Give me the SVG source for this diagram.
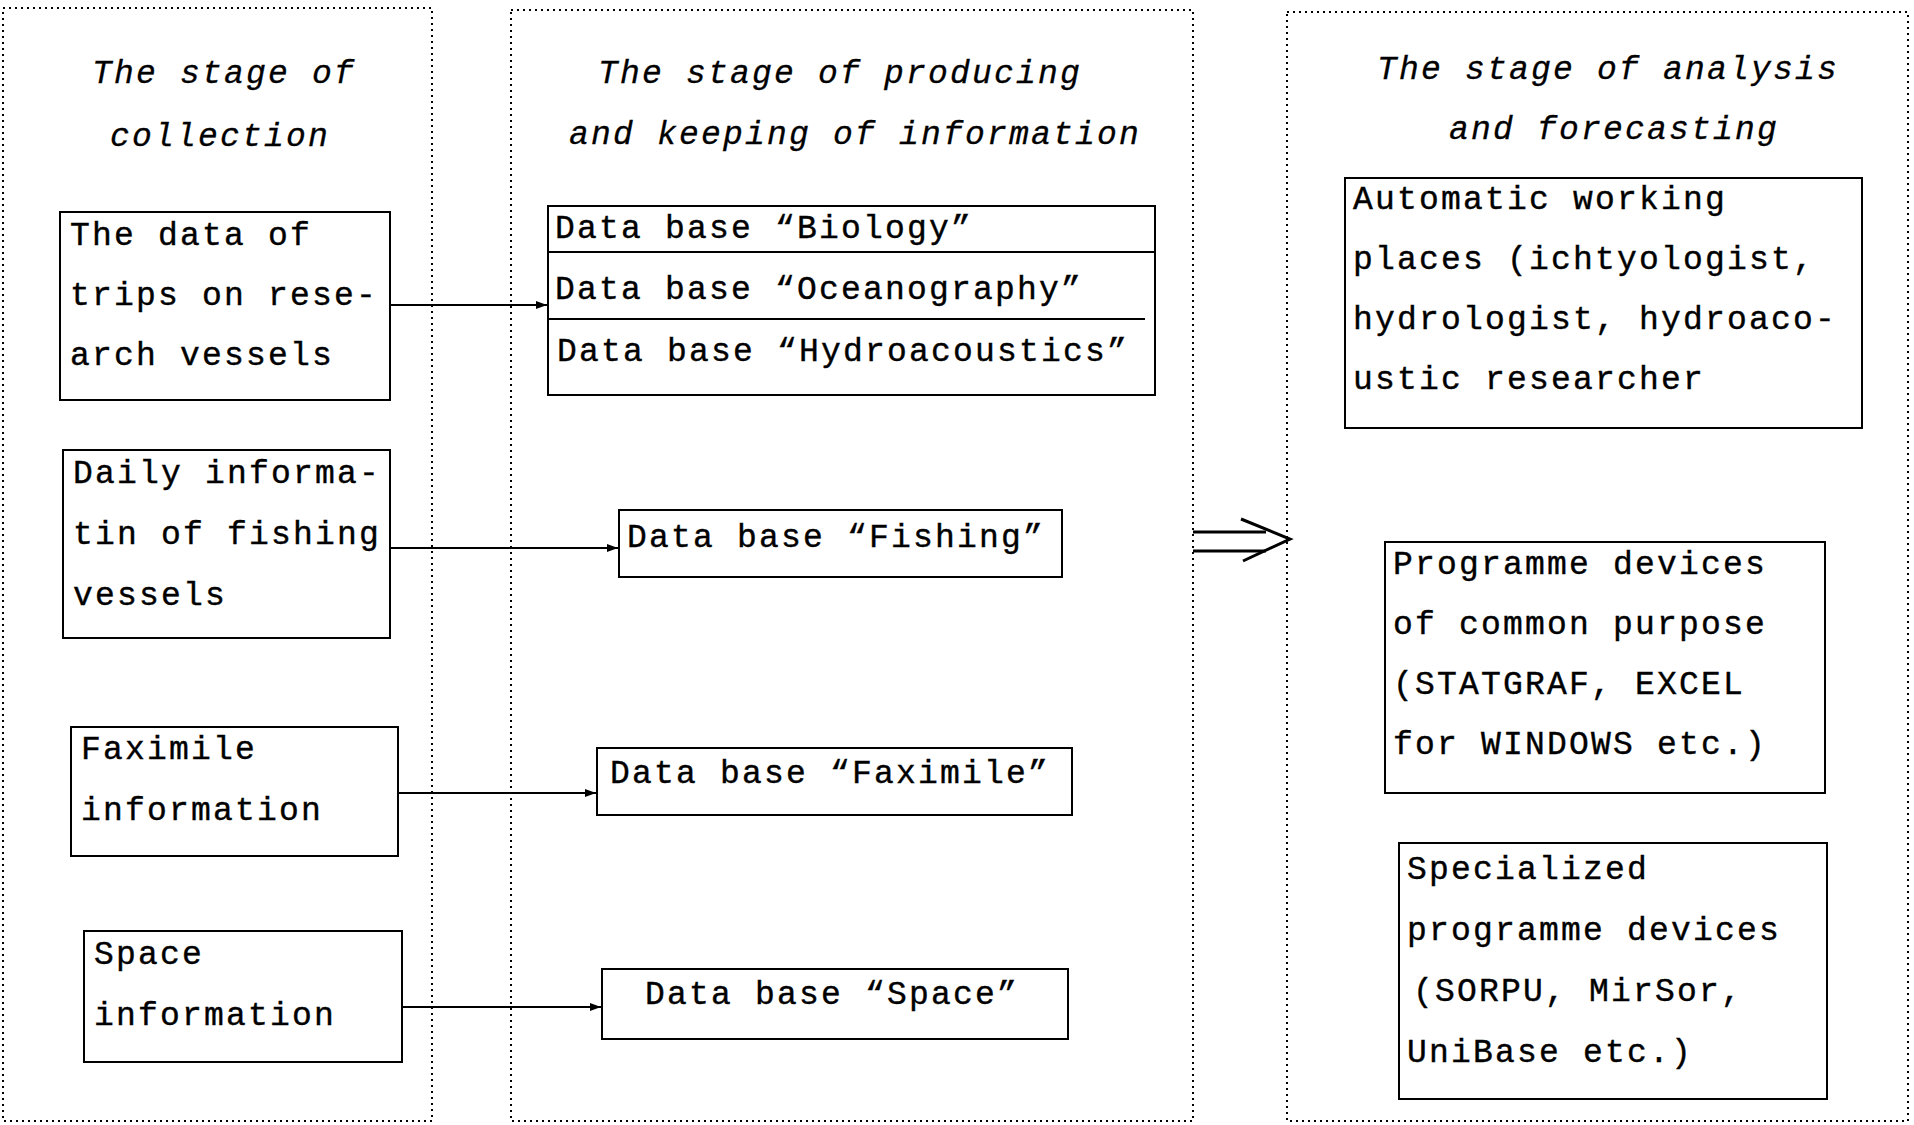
<svg xmlns="http://www.w3.org/2000/svg" width="1914" height="1125" viewBox="0 0 1914 1125">
<defs>
<style>
.panel{fill:none;stroke:#000;stroke-width:2;stroke-dasharray:2 4}
.box{fill:#fff;stroke:#000;stroke-width:2}
.t{font-family:"Liberation Mono","Courier New",monospace;font-size:33px;letter-spacing:2.2px;fill:#000;stroke:#000;stroke-width:0.4}
.ti{font-family:"Liberation Mono","Courier New",monospace;font-size:33px;font-style:italic;letter-spacing:2.2px;fill:#000;stroke:#000;stroke-width:0.3}
.conn{fill:none;stroke:#000;stroke-width:2}
.thick{fill:none;stroke:#000;stroke-width:3}
</style>
<marker id="ah" markerWidth="12" markerHeight="10" refX="11" refY="5" orient="auto" markerUnits="userSpaceOnUse">
<path d="M0,1 L11,5 L0,9 Z" fill="#000"/>
</marker>
</defs>
<rect width="1914" height="1125" fill="#fff"/>

<g id="stage-collection">
<rect class="panel" x="3" y="8" width="429" height="1113"/>
<text class="ti" x="92" y="83">The stage of</text>
<text class="ti" x="110" y="146">collection</text>
</g>
<g id="stage-producing">
<rect class="panel" x="511" y="10" width="682" height="1111"/>
<text class="ti" x="598" y="83">The stage of producing</text>
<text class="ti" x="569" y="144">and keeping of information</text>
</g>
<g id="stage-analysis">
<rect class="panel" x="1287" y="12" width="621" height="1109"/>
<text class="ti" x="1377" y="79">The stage of analysis</text>
<text class="ti" x="1449" y="139">and forecasting</text>
</g>

<g id="src-trips">
<rect class="box" x="60" y="212" width="330" height="188"/>
<text class="t" x="70" y="245">The data of</text>
<text class="t" x="70" y="305">trips on rese-</text>
<text class="t" x="70" y="365">arch vessels</text>
</g>
<g id="src-daily">
<rect class="box" x="63" y="450" width="327" height="188"/>
<text class="t" x="73" y="483">Daily informa-</text>
<text class="t" x="73" y="544">tin of fishing</text>
<text class="t" x="73" y="605">vessels</text>
</g>
<g id="src-faximile">
<rect class="box" x="71" y="727" width="327" height="129"/>
<text class="t" x="81" y="759">Faximile</text>
<text class="t" x="81" y="820">information</text>
</g>
<g id="src-space">
<rect class="box" x="84" y="931" width="318" height="131"/>
<text class="t" x="94" y="964">Space</text>
<text class="t" x="94" y="1025">information</text>
</g>

<g id="db-stack">
<rect class="box" x="548" y="206" width="607" height="189"/>
<line class="conn" x1="548" y1="252" x2="1155" y2="252"/>
<line class="conn" x1="548" y1="319" x2="1145" y2="319"/>
<text class="t" x="555" y="238">Data base “Biology”</text>
<text class="t" x="555" y="299">Data base “Oceanography”</text>
<text class="t" x="557" y="361">Data base “Hydroacoustics”</text>
</g>
<g id="db-fishing">
<rect class="box" x="619" y="510" width="443" height="67"/>
<text class="t" x="627" y="547">Data base “Fishing”</text>
</g>
<g id="db-faximile">
<rect class="box" x="597" y="748" width="475" height="67"/>
<text class="t" x="610" y="783">Data base “Faximile”</text>
</g>
<g id="db-space">
<rect class="box" x="602" y="969" width="466" height="70"/>
<text class="t" x="645" y="1004">Data base “Space”</text>
</g>

<g id="awp">
<rect class="box" x="1345" y="178" width="517" height="250"/>
<text class="t" x="1353" y="209">Automatic working</text>
<text class="t" x="1353" y="269">places (ichtyologist,</text>
<text class="t" x="1353" y="329">hydrologist, hydroaco-</text>
<text class="t" x="1353" y="389">ustic researcher</text>
</g>
<g id="common-software">
<rect class="box" x="1385" y="542" width="440" height="251"/>
<text class="t" x="1393" y="574">Programme devices</text>
<text class="t" x="1393" y="634">of common purpose</text>
<text class="t" x="1393" y="694">(STATGRAF, EXCEL</text>
<text class="t" x="1393" y="754">for WINDOWS etc.)</text>
</g>
<g id="special-software">
<rect class="box" x="1399" y="843" width="428" height="256"/>
<text class="t" x="1407" y="879">Specialized</text>
<text class="t" x="1407" y="940">programme devices</text>
<text class="t" x="1413" y="1001">(SORPU, MirSor,</text>
<text class="t" x="1407" y="1062">UniBase etc.)</text>
</g>

<g id="connectors">
<line class="conn" x1="391" y1="305" x2="547" y2="305" marker-end="url(#ah)"/>
<line class="conn" x1="391" y1="548" x2="618" y2="548" marker-end="url(#ah)"/>
<line class="conn" x1="398" y1="793" x2="596" y2="793" marker-end="url(#ah)"/>
<line class="conn" x1="402" y1="1007" x2="601" y2="1007" marker-end="url(#ah)"/>
<line class="thick" x1="1193" y1="532" x2="1266" y2="532"/>
<line class="thick" x1="1193" y1="551" x2="1266" y2="551"/>
<polyline class="thick" points="1241,519 1290,539 1243,561"/>
</g>
</svg>
